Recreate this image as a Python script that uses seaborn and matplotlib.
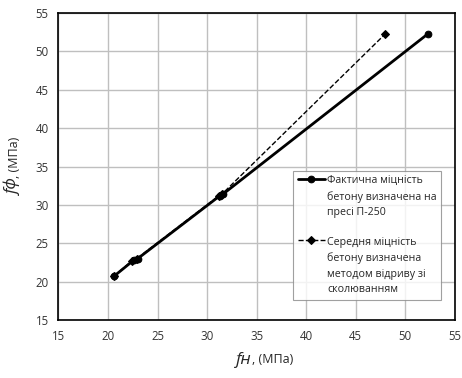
import matplotlib
matplotlib.use("Agg")
import matplotlib.pyplot as plt
import seaborn as sns

# fн vs fф data (MPa)
fact_x = [20.6, 22.6, 23.0, 31.3, 31.6, 52.3]
fact_y = [20.7, 22.8, 23.0, 31.2, 31.4, 52.3]
avg_x = [20.6, 22.4, 22.9, 31.2, 31.5, 48.0]
avg_y = [20.7, 22.7, 23.0, 31.2, 31.4, 52.3]
label_fact = "Фактична міцність\nбетону визначена на\nпресі П-250"
label_avg = "Середня міцність\nбетону визначена\nметодом відриву зі\nсколюванням"

sns.set_style("white")
plt.rcParams['font.family'] = ['Open Sans', 'DejaVu Sans']

fig = plt.figure(figsize=(4.62, 3.78), dpi=100)
ax = fig.add_axes([0.1265, 0.1534, 0.858, 0.8122])

sns.lineplot(x=fact_x, y=fact_y, ax=ax, color='black', linewidth=2,
             marker='o', markersize=4.8, markeredgecolor='black',
             estimator=None, sort=False, label=label_fact)
sns.lineplot(x=avg_x, y=avg_y, ax=ax, color='black', linewidth=1,
             linestyle='--', marker='D', markersize=3.6, markeredgecolor='black',
             estimator=None, sort=False, label=label_avg)

ax.set_xlim(15, 55)
ax.set_ylim(15, 55)
ax.set_xticks(range(15, 56, 5))
ax.set_yticks(range(15, 56, 5))
ax.grid(True, color='#bfbfbf', linewidth=1)
ax.set_axisbelow(True)
for s in ax.spines.values():
    s.set_color('black')
    s.set_linewidth(1.2)
ax.tick_params(axis='both', which='both', direction='out', length=4,
               color='#888888', labelsize=8.3, labelcolor='#333333', pad=3)
ax.set_xlabel('')
ax.set_ylabel('')

# axis titles: italic symbol + upright units
ax.text(0.488, -0.13, 'fн', transform=ax.transAxes, ha='right', va='center',
        fontsize=12.5, style='italic')
ax.text(0.488, -0.13, ', (МПа)', transform=ax.transAxes, ha='left', va='center',
        fontsize=9)
ax.text(-0.112, 0.462, 'fф', transform=ax.transAxes, ha='center', va='top',
        rotation=90, fontsize=12.5, style='italic')
ax.text(-0.112, 0.462, ', (МПа)', transform=ax.transAxes, ha='center', va='bottom',
        rotation=90, fontsize=9)

leg = ax.legend(loc='upper left', bbox_to_anchor=(0.591, 0.487), fontsize=7.7,
                frameon=True, fancybox=False, edgecolor='#888888',
                handlelength=2.6, handletextpad=0.15, labelspacing=1.7,
                borderpad=0.45, borderaxespad=0)
leg.get_frame().set_linewidth(0.8)
for t in leg.get_texts():
    t.set_linespacing(1.55)
# put the handle next to the first line of each label
for col in leg._legend_handle_box.get_children():
    for row in col.get_children():
        row.align = "top"

fig.savefig('out.png', dpi=100)
